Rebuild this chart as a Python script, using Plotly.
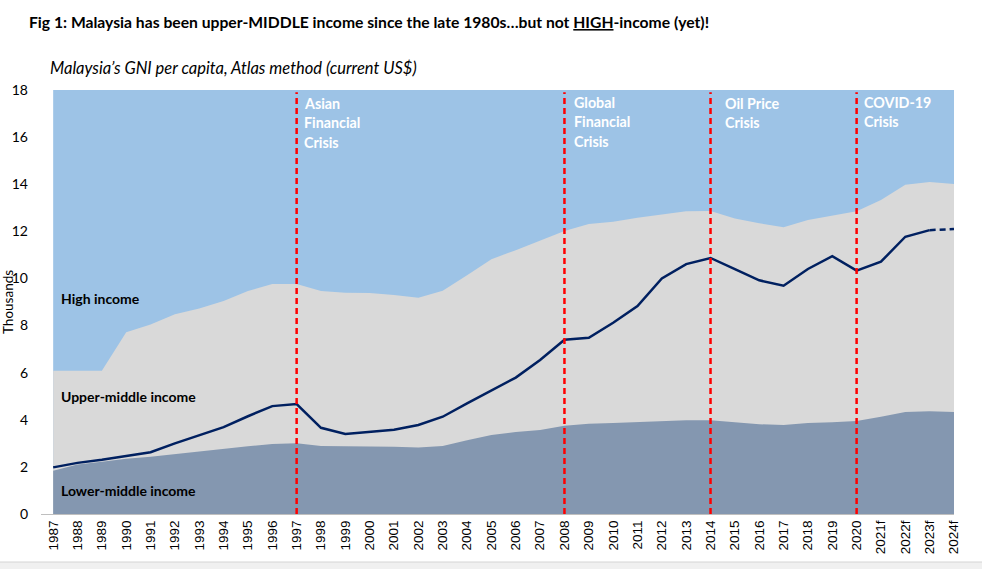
import plotly.graph_objects as go

years = ["1987","1988","1989","1990","1991","1992","1993","1994","1995","1996",
         "1997","1998","1999","2000","2001","2002","2003","2004","2005","2006",
         "2007","2008","2009","2010","2011","2012","2013","2014","2015","2016",
         "2017","2018","2019","2020","2021f","2022f","2023f","2024f"]

# thresholds (thousands US$)
lower_middle_top = [1.84,2.10,2.22,2.35,2.43,2.55,2.66,2.76,2.88,2.97,
                    3.00,2.89,2.89,2.89,2.86,2.82,2.89,3.13,3.35,3.48,
                    3.57,3.75,3.83,3.86,3.90,3.95,3.98,3.98,3.88,3.81,
                    3.78,3.86,3.90,3.95,4.13,4.33,4.36,4.33]
upper_middle_top = [6.08,6.08,6.08,7.72,8.05,8.48,8.72,9.04,9.47,9.76,
                    9.76,9.47,9.39,9.38,9.30,9.18,9.48,10.14,10.82,11.20,
                    11.59,12.01,12.31,12.41,12.58,12.73,12.85,12.86,12.54,12.34,
                    12.17,12.48,12.66,12.85,13.33,13.98,14.09,14.01]
high_income_top = [18.0]*len(years)
malaysia_gni = [1.98,2.17,2.30,2.47,2.62,3.00,3.34,3.69,4.15,4.58,
                4.67,3.66,3.40,3.49,3.58,3.78,4.13,4.70,5.23,5.79,
                6.54,7.40,7.48,8.12,8.83,10.00,10.61,10.87,10.40,9.92,
                9.69,10.40,10.95,10.33,10.71,11.77,12.05,12.10]

crisis_years = ["1997","2008","2014","2020"]
crisis_labels = [["Asian","Financial","Crisis"],["Global","Financial","Crisis"],
                 ["Oil Price","Crisis"],["COVID-19","Crisis"]]

region_labels = ["High income","Upper-middle income","Lower-middle income"]

TITLE = "Fig 1: Malaysia has been upper-MIDDLE income since the late 1980s…but not <u>HIGH</u>-income (yet)!"
SUBTITLE = "Malaysia’s GNI per capita, Atlas method (current US$)"

W, H = 982, 569
L, R, T, B = 41, 28, 90, 55
PW, PH = W - L - R, H - T - B

def px(x):
    return (x - L) / PW

def py(y):
    return (H - B - y) / PH

FONT = "Lato"

fig = go.Figure()
fig.add_trace(go.Scatter(x=years, y=high_income_top, mode="lines", line=dict(width=0),
                         fill="tozeroy", fillcolor="#9DC3E6", hoverinfo="skip"))
fig.add_trace(go.Scatter(x=years, y=upper_middle_top, mode="lines", line=dict(width=0),
                         fill="tozeroy", fillcolor="#D9D9D9", hoverinfo="skip"))
fig.add_trace(go.Scatter(x=years, y=lower_middle_top, mode="lines", line=dict(width=0),
                         fill="tozeroy", fillcolor="#8497B0", hoverinfo="skip"))
# actual / forecast solid line
fig.add_trace(go.Scatter(x=years[:-1], y=malaysia_gni[:-1], mode="lines",
                         line=dict(color="#002060", width=2.5)))
fig.add_trace(go.Scatter(x=years[-2:], y=malaysia_gni[-2:], mode="lines",
                         line=dict(color="#002060", width=2.5, dash="6px,4px")))

shapes = []
for cy in crisis_years:
    i = years.index(cy)
    shapes.append(dict(type="line", xref="x", yref="y", x0=i, x1=i, y0=0, y1=17.9,
                       line=dict(color="#FF0000", width=2.5, dash="6px,4px"), layer="above"))
# bottom window strip
shapes.append(dict(type="rect", xref="paper", yref="paper", x0=px(-5), x1=px(990),
                   y0=py(575), y1=py(562), fillcolor="#F0F0F0",
                   line=dict(color="#D4D4D4", width=1), layer="above"))

ann = []
ann.append(dict(text="<b>" + TITLE + "</b>", xref="paper", yref="paper", x=px(27), y=py(22),
                xanchor="left", yanchor="middle", showarrow=False,
                font=dict(family=FONT, size=15.7, color="black")))
ann.append(dict(text="<i>" + SUBTITLE + "</i>", xref="paper", yref="paper", x=px(48), y=py(68),
                xanchor="left", yanchor="middle", showarrow=False,
                font=dict(family=FONT, size=16.5, color="black")))
ann.append(dict(text="Thousands", xref="paper", yref="paper", x=px(8), y=py(302),
                xanchor="center", yanchor="middle", textangle=-90, showarrow=False,
                font=dict(family=FONT, size=13.5, color="black")))

label_x = [302, 572, 723, 862]
label_y0 = [103, 102, 103, 102]
for cy, lines, lx, ly in zip(crisis_years, crisis_labels, label_x, label_y0):
    for k, t in enumerate(lines):
        ann.append(dict(text="<b>" + t + "</b>", xref="paper", yref="paper",
                        x=px(lx), y=py(ly + 19.8 * k), xanchor="left", yanchor="middle",
                        showarrow=False, font=dict(family=FONT, size=14.3, color="white")))

for t, ly in zip(region_labels, [298, 396, 490]):
    ann.append(dict(text="<b>" + t + "</b>", xref="paper", yref="paper", x=px(59), y=py(ly),
                    xanchor="left", yanchor="middle", showarrow=False,
                    font=dict(family=FONT, size=14, color="black")))

fig.update_layout(
    width=W, height=H, margin=dict(l=L, r=R, t=T, b=B),
    paper_bgcolor="white", plot_bgcolor="white", showlegend=False,
    shapes=shapes, annotations=ann,
    xaxis=dict(type="category", range=[-0.5, len(years) - 1], showgrid=False, zeroline=False,
               showline=True, linecolor="#BFBFBF", linewidth=1, ticks="",
               tickangle=-90, tickfont=dict(family="Liberation Sans", size=13.5, color="black"),
               fixedrange=True),
    yaxis=dict(range=[0, 18], dtick=2, showgrid=False, zeroline=False, showline=False,
               ticks="", tickfont=dict(family=FONT, size=14, color="black"),
               ticklabelstandoff=12, fixedrange=True),
)

fig.write_html("out.html")
